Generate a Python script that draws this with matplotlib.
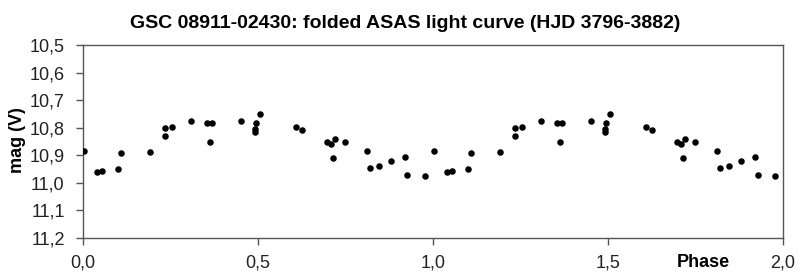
## Folded ASAS light curve of GSC 08911-02430, two cycles shown.

import matplotlib
matplotlib.use("Agg")
import matplotlib.pyplot as plt
import numpy as np
from matplotlib.ticker import FuncFormatter

plt.rcParams['font.family'] = ['Liberation Sans', 'DejaVu Sans']

# phase and V magnitude of each observation (one cycle)
phase = [0.005, 0.040, 0.056, 0.101, 0.109, 0.191, 0.234, 0.235, 0.256, 0.310,
         0.354, 0.369, 0.364, 0.451, 0.494, 0.491, 0.492, 0.507, 0.610, 0.628,
         0.697, 0.709, 0.721, 0.716, 0.750, 0.812, 0.821, 0.846, 0.882, 0.920,
         0.928, 0.979]
mag = [10.884, 10.961, 10.957, 10.951, 10.894, 10.890, 10.802, 10.829, 10.797, 10.776,
       10.782, 10.782, 10.854, 10.776, 10.783, 10.805, 10.815, 10.752, 10.797, 10.807,
       10.853, 10.860, 10.843, 10.910, 10.854, 10.884, 10.946, 10.941, 10.921, 10.905,
       10.971, 10.976]

title = "GSC 08911-02430: folded ASAS light curve (HJD 3796-3882)"
xticks = [0.0, 0.5, 1.0, 1.5, 2.0]
yticks = [10.5, 10.6, 10.7, 10.8, 10.9, 11.0, 11.1, 11.2]

# show the folded curve twice
x = np.concatenate([np.array(phase), np.array(phase) + 1])
y = np.concatenate([mag, mag])

fig = plt.figure(figsize=(7.99, 2.73), dpi=100)
ax = fig.add_axes([0.1035, 0.1293, 0.8761, 0.7057])

ax.scatter(x, y, s=22, color="black", zorder=3, linewidths=0)

ax.set_xlim(0, 2)
ax.set_ylim(11.2, 10.5)
ax.set_xticks(xticks)
ax.set_yticks(yticks)

comma = lambda fmt: FuncFormatter(lambda v, pos: format(v, fmt).replace(".", ","))
ax.xaxis.set_major_formatter(comma(".1f"))
ax.yaxis.set_major_formatter(comma(".1f"))

for s in ax.spines.values():
    s.set_color("#555555")
    s.set_linewidth(1.0)
ax.tick_params(direction="out", length=5, width=1, color="#555555",
               labelsize=13, labelcolor="#222222")
ax.tick_params(axis="y", pad=8)
ax.tick_params(axis="x", pad=7)

ax.set_title(title, fontsize=14, fontweight="bold", pad=12, x=0.46)
ax.set_ylabel("mag (V)", fontsize=13, fontweight="bold")
ax.yaxis.set_label_coords(-0.081, 0.507)
ax.set_xlabel("Phase", fontsize=13, fontweight="bold")
ax.xaxis.set_label_coords(0.886, -0.127)
ax.xaxis.label.set_va("center")

fig.savefig("out.png", dpi=100)
